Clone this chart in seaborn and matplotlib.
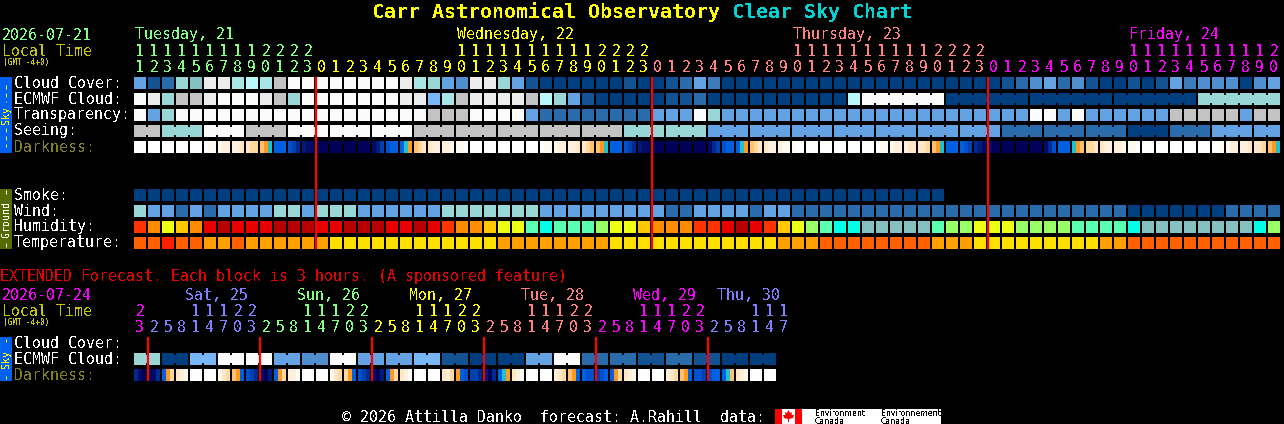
import numpy as np
import pandas as pd
import matplotlib
matplotlib.use("Agg")
import matplotlib.pyplot as plt
import seaborn as sns
from matplotlib.colors import ListedColormap
from matplotlib.patches import Rectangle, Polygon

sns.set_theme(style="white")
plt.rcParams["font.family"] = ["DejaVu Sans Mono"]
plt.rcParams["text.antialiased"] = False

# ---- colour scales ----
sky_colors = ["#fbfbfb", "#ececec", "#c3c3c3", "#b8f8f8", "#a6e6e6", "#99d6d6", "#82c2c2",
              "#77b7f7", "#63a3e3", "#4f8fcf", "#3b7bbb", "#2a6bab", "#135393", "#003f7f"]
humidity_colors = ["#b60000", "#e80000", "#ff3300", "#ff8c00", "#ffc800", "#ecff14",
                   "#99ff66", "#5affb0", "#00ffe6", "#84c0c0"]
temp_colors = ["#ff2000", "#ff6000", "#ff9f00", "#ffdf00"]
dark_colors = ["#ffffff", "#fffaf0", "#fff0dc", "#ffe6c4", "#ffd8a0", "#ffc070", "#ff9a20",
               "#20c0d0", "#0060e0", "#0050d0", "#0040b0", "#002a90", "#001a78", "#000a68",
               "#00005a"]

# ---- hourly forecast, one level per hour ----
cloud_cover = [8, 12, 11, 5, 6, 1, 1, 4, 3, 4, 2, 0, 0] + \
    [0] * 6 + [1, 4, 5, 8, 9, 1, 1, 5, 8, 12] + [13] * 6 + [12, 13] + \
    [13, 12, 11, 8, 10] + [13] * 19 + \
    [13, 12, 11, 9, 8, 11, 9, 12, 13, 13, 12, 13, 12, 8, 10, 9, 9, 9, 13, 9, 8]
ecmwf_cloud = [0, 1, 5, 2, 2, 1, 0, 0, 0, 1, 2, 5, 0] + \
    [0] * 6 + [1, 1, 7, 4, 2, 1, 1, 1, 1, 2, 3, 5, 8, 12] + [13] * 4 + \
    [13, 12, 12, 11] + [13] * 10 + [3] + [0] * 6 + [13] * 3 + \
    [13] * 15 + [5] * 6
transparency = [0, 8, 5] + [0] * 10 + \
    [0] * 8 + [2] * 3 + [0] * 4 + [8] + [11] * 8 + \
    [8] * 3 + [0, 5] + [8] * 19 + \
    [8] * 3 + [0, 0, 8, 0] + [8] * 6 + [2] * 5 + [8, 2, 2]
seeing = [2, 2, 5, 5, 5, 0, 0, 0, 2, 2, 2, 0, 0] + \
    [0] * 7 + [2] * 15 + [5] * 2 + \
    [5] * 4 + [8] * 20 + \
    [8] + [11] * 9 + [13] * 3 + [11] * 3 + [8] * 5
smoke = [13] * 58 + [np.nan] * 24
wind = [5, 8, 8, 11, 8, 11, 8, 8, 8, 8, 5, 5, 8] + \
    [5] * 3 + [8] * 6 + [5] * 7 + [8] * 8 + \
    [8, 11, 11, 8, 8, 8, 8, 11, 8, 8] + [11] * 14 + \
    [11] * 10 + [13] * 7 + [11] * 4
humidity = [2, 3, 5, 4, 3, 1, 0, 1, 1, 1, 0, 0, 0] + \
    [1, 1, 0, 0, 0, 1, 1, 0, 1, 2, 3, 3, 4, 5, 5, 7, 8, 7, 7, 7, 6, 5, 5, 4] + \
    [3, 3, 3, 2, 2, 1, 0, 1, 2, 4, 5, 6, 7, 8, 8, 9, 9, 9, 9, 9, 7, 6, 6, 5] + \
    [5, 5, 6, 6, 6, 6, 7, 7, 7, 7, 8] + [9] * 8 + [8, 6]
temperature = [1, 1, 0, 1, 1, 2, 2, 1, 2, 2, 2, 2, 2] + \
    [2] + [3] * 12 + [2] * 8 + [3] * 3 + \
    [3] * 9 + [2] * 3 + [1] * 8 + [2] * 3 + [3] + \
    [3] * 8 + [2] * 2 + [1] * 11

# three readings across each hour, the darkness block is a gradient
N0 = (0, 0, 0)
N8 = (8, 8, 8)
N14 = (14, 14, 14)
darkness = [N0, N0, N0, N0, N0, (0, 1, 1), (1, 2, 2), (2, 2, 3), (3, 4, 4), (5, 6, 7), N8,
            (9, 10, 11), (12, 13, 13)] + \
    [N14, N14, N14, N14, (13, 12, 10), (9, 8, 8), (8, 7, 6), (5, 4, 3), (3, 2, 2), (2, 2, 1),
     (1, 1, 0), N0, N0, N0, N0, N0, (0, 1, 1), (1, 2, 2), (2, 2, 3), (3, 4, 5), (5, 6, 7), N8,
     (9, 10, 11), (12, 13, 13)] + \
    [N14, N14, N14, N14, (13, 11, 10), (9, 8, 8), (8, 7, 6), (5, 4, 3), (3, 2, 2), (2, 1, 1),
     (1, 0, 0), N0, N0, N0, N0, N0, (0, 1, 1), (1, 2, 2), (2, 3, 3), (3, 3, 4), (5, 6, 7), N8,
     (8, 9, 10), (11, 12, 13)] + \
    [(13, 14, 14), N14, N14, N14, (13, 11, 9), N8, (7, 6, 5), (4, 4, 3), (3, 2, 2), (2, 2, 1),
     (1, 1, 0), N0, N0, N0, N0, N0, (0, 0, 1), (1, 2, 2), (2, 2, 3), (3, 3, 4), (5, 6, 7)]

# ---- extended forecast, one level per 3 hours ----
ext_ecmwf = [5, 5, 13, 13, 7, 7, 0, 0, 0, 0, 8, 8, 9, 9, 0, 0, 8, 8, 8, 8, 7, 7, 12, 12,
             13, 13, 13, 13, 8, 8, 0, 0, 11, 11, 11, 11, 12, 12, 11, 11, 12, 12, 13, 13, 13, 13]
ext_darkness = [(11, 13, 14), (14, 13, 11), (8, 6, 4), (3, 2, 1), N0, N0, (1, 3, 4), (5, 6, 8),
                (9, 10, 11), (13, 14, 12), (8, 6, 4), (2, 2, 0), N0, N0, (1, 3, 4), (4, 6, 8),
                (9, 10, 11), (13, 14, 12), (8, 6, 4), (3, 2, 0), N0, N0, (3, 2, 4), (6, 8, 9),
                (10, 10, 11), (12, 14, 11), (8, 7, 6), (3, 2, 0), N0, N0, (2, 3, 4), (5, 6, 8),
                (8, 9, 9), (10, 9, 8), (8, 6, 4), (3, 2, 1), N0, N0, (2, 3, 4), (5, 6, 8),
                (9, 9, 10), (9, 8, 8), (8, 7, 5), (3, 2, 1), N0, N0]

# ---- time axes ----
green, yellow, salmon, magenta, violet = "#80ff80", "#ffff00", "#ff8080", "#ff00ff", "#8080ff"
hours = list(range(11, 24)) + list(range(24)) * 2 + list(range(21))
hour_colors = [green] * 13 + [yellow] * 24 + [salmon] * 24 + [magenta] * 21
day_labels = ["Tuesday, 21", "Wednesday, 22", "Thursday, 23", "Friday, 24"]
day_columns = [0, 23, 47, 71]
day_colors = [green, yellow, salmon, magenta]
midnights = [13, 37, 61]

# one more hour label than there are blocks, same as the source page
ext_hours = [23] + [2, 5, 8, 11, 14, 17, 20, 23] * 5 + [2, 5, 8, 11, 14, 17]
ext_colors = [magenta] + [violet] * 8 + [green] * 8 + [yellow] * 8 + [salmon] * 8 + \
    [magenta] * 8 + [violet] * 6
ext_day_labels = ["Sat, 25", "Sun, 26", "Mon, 27", "Tue, 28", "Wed, 29", "Thu, 30"]
ext_day_x = [185, 297, 409, 521, 633, 717]
ext_day_colors = [violet, green, yellow, salmon, magenta, violet]
ext_midnights = [1, 9, 17, 25, 33, 41]

LEFT, PITCH, W, H = 134, 14, 1284, 424

fig = plt.figure(figsize=(W / 100, H / 100), dpi=100, facecolor="black")


def box(x, y, w, h):
    # pixel box, top left origin, to figure fractions
    return [x / W, 1 - (y + h) / H, w / W, h / H]


def draw_row(values, y, colors, links=()):
    # the black heatmap grid eats 1px on each side of a 14px cell
    ax = fig.add_axes(box(LEFT - 1, y - 1, PITCH * len(values), PITCH))
    frame = pd.DataFrame([values])
    sns.heatmap(frame, ax=ax, cmap=ListedColormap(colors), vmin=-0.5, vmax=len(colors) - 0.5,
                cbar=False, linewidths=2 * 0.72, linecolor="black", xticklabels=False,
                yticklabels=False)
    ax.axis("off")
    for i in links:
        ax.add_patch(Rectangle((i - 1 / PITCH, 3 / PITCH), 2 / PITCH, 8 / PITCH,
                               color=colors[values[i]], lw=0, zorder=5, antialiased=False))


def draw_darkness(values, y):
    samples = np.array(values).ravel()
    ax = fig.add_axes(box(LEFT - 1, y, PITCH * len(values), 12))
    sns.heatmap(pd.DataFrame([samples]), ax=ax, cmap=ListedColormap(dark_colors), vmin=-0.5,
                vmax=len(dark_colors) - 0.5, cbar=False, xticklabels=False, yticklabels=False)
    ax.axis("off")
    ax.vlines(np.arange(len(values) + 1) * 3, 0, 1, color="black", lw=2 * 0.72, zorder=5)


draw_row(cloud_cover, 77, sky_colors)
draw_row(ecmwf_cloud, 93, sky_colors, [i for i in range(53, 82) if (i - 52) % 6])
draw_row(transparency, 109, sky_colors)
draw_row(seeing, 125, sky_colors, [i for i in range(1, 82) if i % 3 != 2])
draw_darkness(darkness, 141)
draw_row(smoke, 189, sky_colors)
draw_row(wind, 205, sky_colors)
draw_row(humidity, 221, humidity_colors)
draw_row(temperature, 237, temp_colors)
draw_row(ext_ecmwf, 353, sky_colors, list(range(1, 46, 2)))
draw_darkness(ext_darkness, 369)

# ---- overlay in pixel coordinates for text, midnight lines and side bars ----
top = fig.add_axes([0, 0, 1, 1], zorder=10)
top.set_xlim(0, W)
top.set_ylim(H, 0)
top.axis("off")

TXT = 10.75
DY = 1
top.text(372, 12, "Carr Astronomical Observatory", color="#ffff00", fontsize=14.4,
         fontweight="bold", va="center")
top.text(732, 12, "Clear Sky Chart", color="#00d4d4", fontsize=14.4, fontweight="bold", va="center")

for date, date_color, y in [("2026-07-21", green, 34), ("2026-07-24", magenta, 295)]:
    top.text(2, y + DY, date, color=date_color, fontsize=TXT, va="center")
    top.text(2, y + 16 + DY, "Local Time", color="#c8c800", fontsize=TXT, va="center")
    top.text(3, y + 28, "(GMT -4+0)", color="#c8c800", fontsize=5.6, va="center")

for label, col, c in zip(day_labels, day_columns, day_colors):
    top.text(LEFT + 1 + col * PITCH, 34 + DY, label, color=c, fontsize=TXT, va="center")
for label, x, c in zip(ext_day_labels, ext_day_x, ext_day_colors):
    top.text(x, 295 + DY, label, color=c, fontsize=TXT, va="center")


def hour_digits(hour_list, color_list, y):
    for i, (hr, c) in enumerate(zip(hour_list, color_list)):
        cx = LEFT + 6 + i * PITCH
        if hr >= 10:
            top.text(cx, y + DY, str(hr // 10), color=c, fontsize=TXT, ha="center", va="center")
        top.text(cx, y + 16 + DY, str(hr % 10), color=c, fontsize=TXT, ha="center", va="center")


hour_digits(hours, hour_colors, 50)
hour_digits(ext_hours, ext_colors, 310)

row_labels = ["Cloud Cover:", "ECMWF Cloud:", "Transparency:", "Seeing:", "Darkness:",
              "Smoke:", "Wind:", "Humidity:", "Temperature:",
              "Cloud Cover:", "ECMWF Cloud:", "Darkness:"]
row_y = [82, 98, 114, 130, 146, 194, 210, 226, 242, 342, 358, 374]
for label, y in zip(row_labels, row_y):
    c = "#808020" if label == "Darkness:" else "white"
    top.text(14, y + DY, label, color=c, fontsize=TXT, va="center")

for col in midnights:
    x = LEFT + col * PITCH
    top.plot([x, x], [77, 249], color="#ff0000", lw=2.2 * 0.72, solid_capstyle="butt")
for col in ext_midnights:
    x = LEFT + col * PITCH
    top.plot([x, x], [337, 381], color="#ff0000", lw=2.2 * 0.72, solid_capstyle="butt")

# side bars, the dashes are lines since rotated "-" text turns into dots
bars = [(77, 153, "#0060f0", "Sky", "#ffff00", [(85, 102), (128, 147)]),
        (189, 249, "#556b00", "Ground", "white", [(190, 194), (243, 247)]),
        (337, 381, "#0060f0", "Sky", "#ffff00", [(339, 342), (376, 379)])]
for y0, y1, bar, label, c, dashes in bars:
    top.add_patch(Rectangle((0, y0), 12, y1 - y0, color=bar, lw=0))
    top.text(6, (y0 + y1) / 2, label, color=c, fontsize=7.2, rotation=90, ha="center", va="center")
    for d0, d1 in dashes:
        top.plot([6, 6], [d0, d1], color=c, lw=0.72, linestyle=(0, (4, 4)), dash_capstyle="butt")

top.text(0, 276 + DY, "EXTENDED Forecast. Each block is 3 hours. (A sponsored feature)",
         color="#e80000", fontsize=TXT, va="center")
top.text(342, 416 + DY, "\u00a9 2026 Attilla Danko  forecast: A.Rahill  data:", color="white",
         fontsize=TXT, va="center")

# Environment Canada logo
top.add_patch(Rectangle((775, 409), 166, 15, color="white", lw=0))
top.add_patch(Rectangle((775, 409), 7, 15, color="#ff0000", lw=0))
top.add_patch(Rectangle((795, 409), 7, 15, color="#ff0000", lw=0))
leaf = [(788.5, 410), (790, 413), (792, 412), (791.5, 415), (794, 415), (793, 418), (789, 419),
        (789, 422), (788, 422), (788, 419), (784, 418), (783, 415), (785.5, 415), (785, 412),
        (787, 413)]
top.add_patch(Polygon(leaf, closed=True, color="#ff0000", lw=0))
for x, word in [(815, "Environment"), (881, "Environnement")]:
    top.text(x, 414, word, color="black", fontsize=5.6, family="DejaVu Sans", va="center")
    top.text(x, 421, "Canada", color="black", fontsize=5.6, family="DejaVu Sans", va="center")

fig.savefig("out.png", dpi=100, facecolor="black")
